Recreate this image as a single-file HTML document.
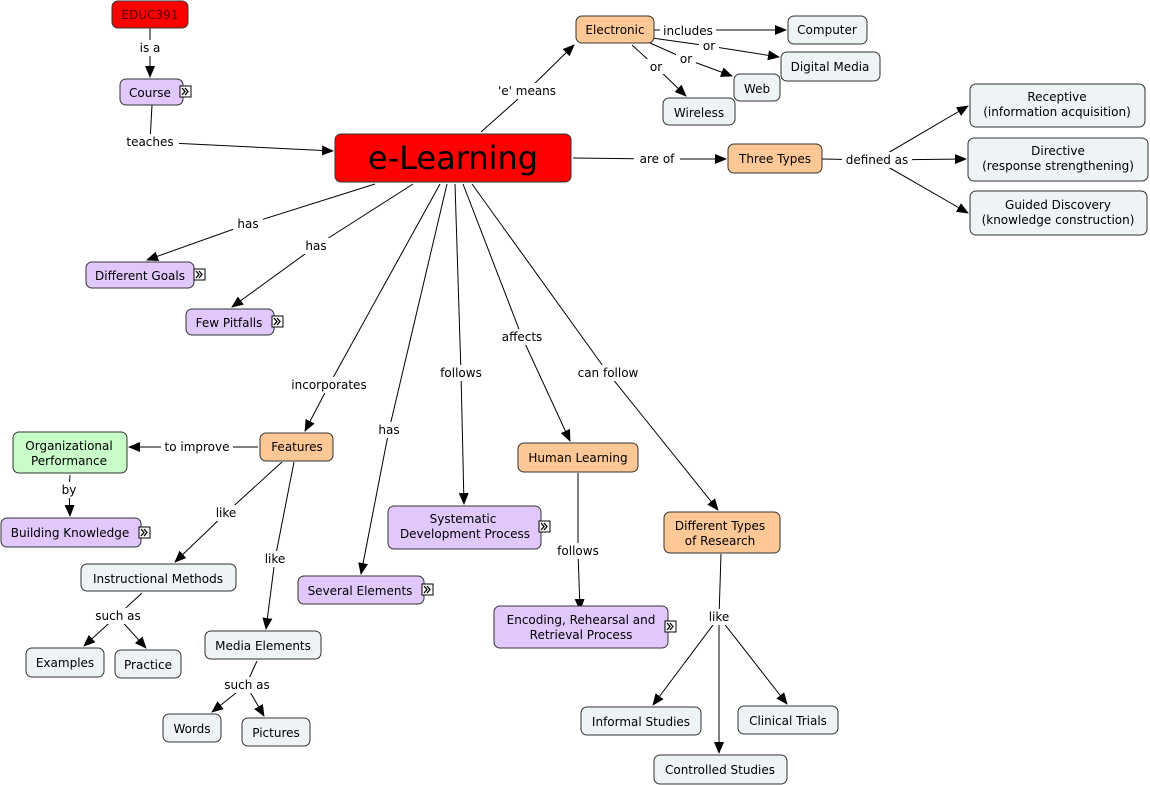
<!DOCTYPE html>
<html><head><meta charset="utf-8"><style>
html,body{margin:0;padding:0;background:#fff;}
svg{display:block;font-family:"DejaVu Sans","Liberation Sans",sans-serif;font-size:12px;}
.n{stroke:#333;stroke-width:1;}
.l{stroke:#000;stroke-width:1;fill:none;}
.a{stroke:#000;stroke-width:1;fill:none;marker-end:url(#ar);}
</style></head><body>
<svg width="1150" height="785" viewBox="0 0 1150 785" xmlns="http://www.w3.org/2000/svg">
<defs>
<marker id="ar" markerUnits="userSpaceOnUse" markerWidth="12" markerHeight="10" refX="11" refY="5" orient="auto"><path d="M0,0 L12,5 L0,10 z" fill="#000"/></marker>
<g id="ic"><rect x="0" y="0" width="11" height="11" fill="#fff" stroke="#000"/><path d="M2,2 L5,5.5 L2,9 M5,2 L8,5.5 L5,9" stroke="#000" fill="none" stroke-width="1.3"/></g>
</defs>
<rect width="1150" height="785" fill="#fff"/>
<!-- connector lines -->
<g>
<line class="l" x1="150" y1="28" x2="150" y2="48"/><line class="a" x1="150" y1="48" x2="150" y2="77"/>
<line class="l" x1="152" y1="105" x2="150" y2="142"/><line class="a" x1="150" y1="142" x2="333" y2="151"/>
<line class="l" x1="481" y1="132" x2="527" y2="91"/><line class="a" x1="527" y1="91" x2="574" y2="45"/>
<line class="l" x1="654" y1="30" x2="688" y2="30"/><line class="a" x1="688" y1="30" x2="786" y2="30"/>
<line class="l" x1="652" y1="38" x2="709" y2="46"/><line class="a" x1="709" y1="46" x2="779" y2="57"/>
<line class="l" x1="650" y1="43" x2="686" y2="59"/><line class="a" x1="686" y1="59" x2="732" y2="76"/>
<line class="l" x1="632" y1="45" x2="656" y2="67"/><line class="a" x1="656" y1="67" x2="686" y2="96"/>
<line class="l" x1="573" y1="158" x2="656" y2="159"/><line class="a" x1="656" y1="159" x2="726" y2="159"/>
<line class="l" x1="822" y1="159" x2="876" y2="160"/>
<line class="a" x1="876" y1="160" x2="968" y2="106"/><line class="a" x1="876" y1="160" x2="966" y2="159"/><line class="a" x1="876" y1="160" x2="968" y2="213"/>
<line class="l" x1="375" y1="184" x2="248" y2="224"/><line class="a" x1="248" y1="224" x2="147" y2="260"/>
<line class="l" x1="413" y1="184" x2="316" y2="246"/><line class="a" x1="316" y1="246" x2="232" y2="307"/>
<line class="l" x1="440" y1="184" x2="329" y2="385"/><line class="a" x1="329" y1="385" x2="305" y2="431"/>
<line class="l" x1="447" y1="184" x2="389" y2="430"/><line class="a" x1="389" y1="430" x2="361" y2="574"/>
<line class="l" x1="455" y1="184" x2="461" y2="373"/><line class="a" x1="461" y1="373" x2="464" y2="504"/>
<line class="l" x1="463" y1="184" x2="522" y2="337"/><line class="a" x1="522" y1="337" x2="570" y2="441"/>
<line class="l" x1="472" y1="184" x2="608" y2="373"/><line class="a" x1="608" y1="373" x2="718" y2="510"/>
<line class="l" x1="258" y1="447" x2="197" y2="447"/><line class="a" x1="197" y1="447" x2="129" y2="447"/>
<line class="l" x1="70" y1="475" x2="69" y2="490"/><line class="a" x1="69" y1="490" x2="70" y2="516"/>
<line class="l" x1="282" y1="462" x2="226" y2="513"/><line class="a" x1="226" y1="513" x2="175" y2="562"/>
<line class="l" x1="294" y1="462" x2="275" y2="559"/><line class="a" x1="275" y1="559" x2="266" y2="629"/>
<line class="l" x1="142" y1="593" x2="117" y2="616"/><line class="a" x1="117" y1="616" x2="84" y2="646"/><line class="a" x1="117" y1="616" x2="146" y2="648"/>
<line class="l" x1="257" y1="661" x2="246" y2="685"/><line class="a" x1="246" y1="685" x2="212" y2="712"/><line class="a" x1="246" y1="685" x2="264" y2="716"/>
<line class="l" x1="578" y1="473" x2="578" y2="551"/><line class="a" x1="578" y1="551" x2="580" y2="610"/>
<line class="l" x1="721" y1="554" x2="719" y2="617"/><line class="a" x1="719" y1="617" x2="653" y2="705"/><line class="a" x1="719" y1="617" x2="787" y2="704"/><line class="a" x1="719" y1="617" x2="719" y2="753"/>
</g>
<!-- labels -->
<g text-anchor="middle">
<g fill="#fff">
<rect x="134" y="40" width="32" height="16"/><rect x="121" y="134" width="58" height="16"/><rect x="494" y="83" width="66" height="16"/>
<rect x="660" y="22" width="56" height="16"/><rect x="699" y="38" width="20" height="15"/><rect x="676" y="51" width="20" height="15"/><rect x="646" y="59" width="20" height="15"/>
<rect x="634" y="151" width="46" height="16"/><rect x="842" y="152" width="70" height="16"/>
<rect x="233" y="216" width="30" height="16"/><rect x="301" y="238" width="30" height="16"/><rect x="287" y="377" width="84" height="16"/>
<rect x="374" y="422" width="30" height="16"/><rect x="436" y="365" width="50" height="16"/><rect x="499" y="329" width="46" height="16"/>
<rect x="574" y="365" width="68" height="16"/><rect x="161" y="439" width="72" height="16"/><rect x="58" y="482" width="22" height="16"/>
<rect x="213" y="505" width="26" height="16"/><rect x="262" y="551" width="26" height="16"/><rect x="92" y="608" width="52" height="16"/>
<rect x="221" y="677" width="52" height="16"/><rect x="554" y="543" width="48" height="16"/><rect x="706" y="609" width="26" height="16"/>
</g>
<text x="150" y="52">is a</text><text x="150" y="146">teaches</text><text x="527" y="95">'e' means</text>
<text x="688" y="35">includes</text><text x="709" y="50">or</text><text x="686" y="63">or</text><text x="656" y="71">or</text>
<text x="657" y="163">are of</text><text x="877" y="164">defined as</text>
<text x="248" y="228">has</text><text x="316" y="250">has</text><text x="329" y="389">incorporates</text>
<text x="389" y="434">has</text><text x="461" y="377">follows</text><text x="522" y="341">affects</text>
<text x="608" y="377">can follow</text><text x="197" y="451">to improve</text><text x="69" y="494">by</text>
<text x="226" y="517">like</text><text x="275" y="563">like</text><text x="118" y="620">such as</text>
<text x="247" y="689">such as</text><text x="578" y="555">follows</text><text x="719" y="621">like</text>
</g>
<!-- nodes -->
<g text-anchor="middle">
<rect class="n" x="112" y="1" width="76" height="27" rx="6" fill="#ff0000"/><text x="150" y="19" fill="#500">EDUC391</text>
<rect class="n" x="120" y="79" width="63" height="26" rx="6" fill="#e0c8fc"/><text x="150" y="97">Course</text><use href="#ic" x="180" y="86"/>
<rect class="n" x="335" y="134" width="236" height="48" rx="6" fill="#ff0000"/><text x="453" y="169" font-size="32">e-Learning</text>
<rect class="n" x="576" y="16" width="78" height="27" rx="6" fill="#fdc896"/><text x="615" y="34">Electronic</text>
<rect class="n" x="788" y="16" width="79" height="28" rx="6" fill="#eef3f5"/><text x="827" y="34">Computer</text>
<rect class="n" x="781" y="52" width="99" height="29" rx="6" fill="#eef3f5"/><text x="830" y="71">Digital Media</text>
<rect class="n" x="734" y="74" width="46" height="27" rx="6" fill="#eef3f5"/><text x="757" y="93">Web</text>
<rect class="n" x="663" y="98" width="72" height="27" rx="6" fill="#eef3f5"/><text x="699" y="117">Wireless</text>
<rect class="n" x="728" y="144" width="94" height="29" rx="6" fill="#fdc896"/><text x="775" y="163">Three Types</text>
<rect class="n" x="970" y="84" width="175" height="43" rx="6" fill="#eef3f5"/><text x="1057" y="101">Receptive</text><text x="1057" y="116">(information acquisition)</text>
<rect class="n" x="968" y="138" width="180" height="43" rx="6" fill="#eef3f5"/><text x="1058" y="155">Directive</text><text x="1058" y="170">(response strengthening)</text>
<rect class="n" x="970" y="191" width="177" height="44" rx="6" fill="#eef3f5"/><text x="1058" y="209">Guided Discovery</text><text x="1058" y="224">(knowledge construction)</text>
<rect class="n" x="86" y="262" width="108" height="26" rx="6" fill="#e0c8fc"/><text x="140" y="280">Different Goals</text><use href="#ic" x="194" y="269"/>
<rect class="n" x="186" y="309" width="88" height="26" rx="6" fill="#e0c8fc"/><text x="229" y="327">Few Pitfalls</text><use href="#ic" x="272" y="316"/>
<rect class="n" x="260" y="433" width="73" height="28" rx="6" fill="#fdc896"/><text x="297" y="451">Features</text>
<rect class="n" x="13" y="432" width="114" height="41" rx="6" fill="#c8fcc8"/><text x="69" y="450">Organizational</text><text x="69" y="465">Performance</text>
<rect class="n" x="1" y="518" width="140" height="29" rx="6" fill="#e0c8fc"/><text x="70" y="537">Building Knowledge</text><use href="#ic" x="139" y="527"/>
<rect class="n" x="81" y="564" width="155" height="27" rx="6" fill="#eef3f5"/><text x="158" y="583">Instructional Methods</text>
<rect class="n" x="26" y="648" width="78" height="29" rx="6" fill="#eef3f5"/><text x="65" y="667">Examples</text>
<rect class="n" x="115" y="650" width="66" height="28" rx="6" fill="#eef3f5"/><text x="148" y="669">Practice</text>
<rect class="n" x="205" y="631" width="116" height="28" rx="6" fill="#eef3f5"/><text x="263" y="650">Media Elements</text>
<rect class="n" x="163" y="714" width="58" height="28" rx="6" fill="#eef3f5"/><text x="192" y="733">Words</text>
<rect class="n" x="242" y="718" width="68" height="28" rx="6" fill="#eef3f5"/><text x="276" y="737">Pictures</text>
<rect class="n" x="298" y="576" width="126" height="28" rx="6" fill="#e0c8fc"/><text x="360" y="595">Several Elements</text><use href="#ic" x="422" y="584"/>
<rect class="n" x="388" y="506" width="153" height="43" rx="6" fill="#e0c8fc"/><text x="463" y="523">Systematic</text><text x="465" y="538">Development Process</text><use href="#ic" x="539" y="521"/>
<rect class="n" x="518" y="443" width="120" height="29" rx="6" fill="#fdc896"/><text x="578" y="462">Human Learning</text>
<rect class="n" x="494" y="606" width="174" height="42" rx="6" fill="#e0c8fc"/><text x="581" y="624">Encoding, Rehearsal and</text><text x="581" y="639">Retrieval Process</text><use href="#ic" x="665" y="621"/>
<rect class="n" x="664" y="512" width="116" height="41" rx="6" fill="#fdc896"/><text x="720" y="530">Different Types</text><text x="720" y="545">of Research</text>
<rect class="n" x="581" y="707" width="120" height="28" rx="6" fill="#eef3f5"/><text x="641" y="726">Informal Studies</text>
<rect class="n" x="738" y="706" width="100" height="28" rx="6" fill="#eef3f5"/><text x="788" y="725">Clinical Trials</text>
<rect class="n" x="654" y="755" width="133" height="29" rx="6" fill="#eef3f5"/><text x="720" y="774">Controlled Studies</text>
</g>
</svg>
</body></html>
